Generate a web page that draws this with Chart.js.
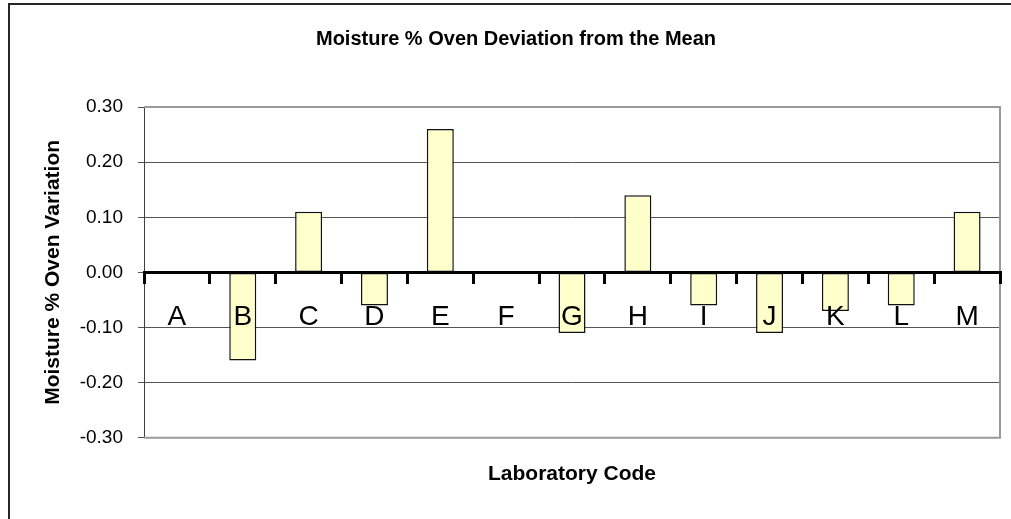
<!DOCTYPE html>
<html>
<head>
<meta charset="utf-8">
<script src="https://cdn.jsdelivr.net/npm/chart.js@4/dist/chart.umd.min.js"></script>
<style>
  html, body { margin: 0; padding: 0; background: #fff; }
  canvas { display: block; }
</style>
</head>
<body>
<canvas id="moistureChart" width="1011" height="519"></canvas>
<script>
// lab codes and their deviation from the mean (moisture % oven)
const labCodes = ["A", "B", "C", "D", "E", "F", "G", "H", "I", "J", "K", "L", "M"];
const deviations = [0, -0.16, 0.11, -0.06, 0.26, 0, -0.11, 0.14, -0.06, -0.11, -0.07, -0.06, 0.11];
const yTickValues = [-0.3, -0.2, -0.1, 0, 0.1, 0.2, 0.3];

const FONT = '"Liberation Sans", Arial, sans-serif';

// white background + outer frame of the chart
const frame = {
  id: "frame",
  beforeDraw: (chart) => {
    const c = chart.ctx;
    c.save();
    c.fillStyle = "#fff";
    c.fillRect(0, 0, chart.width, chart.height);
    c.strokeStyle = "#262626";
    c.lineWidth = 2;
    c.strokeRect(9, 4, 2000, 2000);
    c.restore();
  },
  beforeDatasetsDraw: (chart) => {
    // grey plot area border (top, right, bottom)
    const a = chart.chartArea;
    const c = chart.ctx;
    c.save();
    c.strokeStyle = "#9a9a9a";
    c.lineWidth = 2;
    c.beginPath();
    c.moveTo(a.left, a.top);
    c.lineTo(a.right, a.top);
    c.lineTo(a.right, a.bottom);
    c.lineTo(a.left, a.bottom);
    c.stroke();
    c.restore();
  }
};

const ctx = document.getElementById("moistureChart").getContext("2d");
const moistureChart = new Chart(ctx, {
  type: "bar",
  data: {
    labels: labCodes,
    datasets: [
      {
        label: "Deviation",
        data: deviations,
        backgroundColor: "#FFFFCC",
        borderColor: "#111",
        borderWidth: 1.5,
        borderSkipped: false,
        barPercentage: 0.41,
        categoryPercentage: 1,
      },
    ],
  },
  options: {
    responsive: false,
    animation: false,
    layout: { padding: { left: 32, right: 11, top: 0, bottom: 0 } },
    scales: {
      y: {
        min: -0.3,
        max: 0.3,
        afterBuildTicks: (s) => {
          s.ticks = yTickValues.map((v) => ({ value: v }));
        },
        afterFit: (s) => {
          s.width = 112;
        },
        ticks: {
          color: "#000",
          font: { family: FONT, size: 19 },
          padding: 15,
          callback: (v) => Number(v).toFixed(2),
        },
        grid: { color: "#555", lineWidth: 1, tickLength: 6 },
        border: { display: true, color: "#404040", width: 1 },
        title: {
          display: true,
          text: "Moisture % Oven Variation",
          color: "#000",
          font: { family: FONT, size: 21, weight: "bold" },
          padding: { top: 9, bottom: 0 },
        },
      },
      x: {
        position: { y: 0 },
        offset: true,
        ticks: {
          color: "#000",
          font: { family: FONT, size: 28 },
          padding: 18,
          autoSkip: false,
          maxRotation: 0,
          z: 1,
        },
        grid: {
          offset: true,
          drawOnChartArea: false,
          drawTicks: true,
          tickLength: 10,
          color: "#000",
          lineWidth: 3,
          z: 1,
        },
        // z above the grid layer so the zero line sits on top of the bars
        border: { display: true, color: "#000", width: 3, z: 1 },
      },
      x2: {
        type: "category",
        labels: labCodes,
        position: "bottom",
        ticks: { display: false },
        grid: { display: false, drawTicks: false },
        border: { display: false },
        title: {
          display: true,
          text: "Laboratory Code",
          color: "#000",
          font: { family: FONT, size: 21, weight: "bold" },
          padding: { top: 24, bottom: 32 },
        },
      },
    },
    plugins: {
      legend: { display: false },
      tooltip: { enabled: false },
      title: {
        display: true,
        text: "Moisture % Oven Deviation from the Mean",
        color: "#000",
        font: { family: FONT, size: 20, weight: "bold" },
        padding: { top: 27, bottom: 56 },
      },
    },
  },
  plugins: [frame],
});
</script>
</body>
</html>
